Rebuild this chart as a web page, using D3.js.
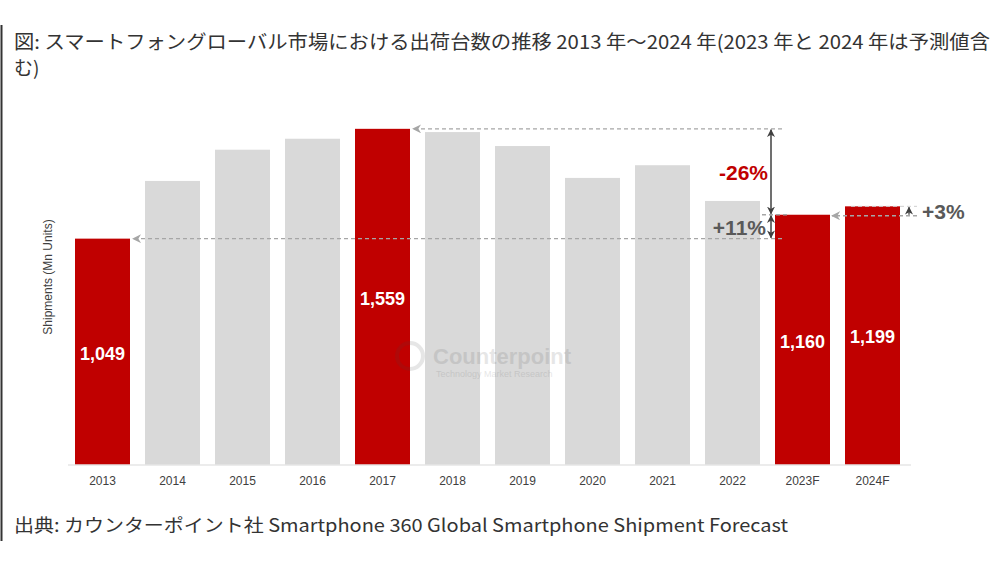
<!DOCTYPE html>
<html><head><meta charset="utf-8">
<script src="https://cdn.jsdelivr.net/npm/d3@7"></script>
<style>html,body{margin:0;padding:0;background:#fff;}svg{display:block;}</style>
</head><body>
<svg id="c" width="1000" height="562"></svg>
<script>
const categories = ["2013","2014","2015","2016","2017","2018","2019","2020","2021","2022","2023F","2024F"];
const shipments = [1049,1317,1462,1513,1559,1544,1479,1331,1390,1224,1160,1199];
const highlighted = ["2013","2017","2023F","2024F"];
const valueLabels = ["1,049","1,559","1,160","1,199"];
const changeLabels = ["-26%","+11%","+3%"];
const titleLine1 = "図: スマートフォングローバル市場における出荷台数の推移 2013 年～2024 年(2023 年と 2024 年は予測値含";
const titleLine2 = "む)";
const sourceText = "出典: カウンターポイント社 Smartphone 360 Global Smartphone Shipment Forecast";
const yTitle = "Shipments (Mn Units)";

const svg = d3.select("#c");
const RED = "#C00000", GRAY = "#D9D9D9", DARK = "#595959";
const jp = "'Noto Sans CJK JP', 'Noto Sans', sans-serif";
const ar = "'Liberation Sans', Arial, sans-serif";

const x = d3.scaleBand().domain(categories).range([67.5, 907.5])
  .paddingInner(15/70).paddingOuter(7.5/70);
const y = d3.scaleLinear().domain([0, 1600]).range([464.5, 120]);

const defs = svg.append("defs");
function marker(id, color, size) {
  defs.append("marker").attr("id", id).attr("viewBox", "0 0 10 10")
    .attr("refX", 9).attr("refY", 5).attr("markerWidth", size).attr("markerHeight", size)
    .attr("orient", "auto-start-reverse").attr("markerUnits", "userSpaceOnUse")
    .append("path").attr("d", "M0,0 L10,5 L0,10 L3,5 Z").attr("fill", color);
}
marker("arrDark", "#404040", 8);
marker("arrGray", "#a6a6a6", 9);

// left border
svg.append("line").attr("x1", 1.5).attr("x2", 1.5).attr("y1", 25).attr("y2", 541)
  .attr("stroke", "#333").attr("stroke-width", 2);

// title
svg.append("text").attr("x", 14).attr("y", 49).attr("font-family", jp).attr("font-size", 19)
  .attr("fill", "#333").attr("textLength", 976).attr("lengthAdjust", "spacingAndGlyphs").text(titleLine1);
svg.append("text").attr("x", 14).attr("y", 75).attr("font-family", jp).attr("font-size", 19)
  .attr("fill", "#333").text(titleLine2);

// bars
svg.append("g").selectAll("rect").data(categories).join("rect")
  .attr("x", d => x(d)).attr("width", x.bandwidth())
  .attr("y", (d, i) => y(shipments[i])).attr("height", (d, i) => y(0) - y(shipments[i]))
  .attr("fill", d => highlighted.includes(d) ? RED : GRAY);

// watermark (on top, faint)
const wm = svg.append("g").attr("opacity", 0.13);
wm.append("circle").attr("cx", 410).attr("cy", 356).attr("r", 13).attr("fill", "none")
  .attr("stroke", "#444").attr("stroke-width", 4);
wm.append("text").attr("x", 433).attr("y", 364).attr("font-family", ar).attr("font-weight", "bold")
  .attr("font-size", 22).attr("fill", "#444").text("Counterpoint");
wm.append("text").attr("x", 436).attr("y", 377).attr("font-family", ar)
  .attr("font-size", 9).attr("fill", "#444").text("Technology Market Research");

// baseline
svg.append("line").attr("x1", 68).attr("x2", 911).attr("y1", y(0) + 0.5).attr("y2", y(0) + 0.5)
  .attr("stroke", "#d9d9d9").attr("stroke-width", 1);

// x labels
svg.append("g").selectAll("text").data(categories).join("text")
  .attr("x", d => x(d) + x.bandwidth() / 2).attr("y", 485).attr("text-anchor", "middle")
  .attr("font-family", ar).attr("font-size", 12).attr("fill", "#404040").text(d => d);

// y title
svg.append("text").attr("transform", "translate(52,277) rotate(-90)").attr("text-anchor", "middle")
  .attr("font-family", ar).attr("font-size", 12).attr("fill", "#404040").text(yTitle);

// value labels
svg.append("g").selectAll("text").data(highlighted).join("text")
  .attr("x", d => x(d) + x.bandwidth() / 2)
  .attr("y", d => { const v = shipments[categories.indexOf(d)]; return (y(v) + y(0)) / 2 + 8; })
  .attr("text-anchor", "middle").attr("font-family", ar).attr("font-weight", "bold")
  .attr("font-size", 18).attr("fill", "#fff").text((d, i) => valueLabels[i]);

// annotations
const v13 = shipments[0], v17 = shipments[4], v23 = shipments[10], v24 = shipments[11];
const ann = svg.append("g");
const dash = "4,3";
ann.append("line").attr("x1", 782).attr("x2", x("2017") + x.bandwidth() + 3)
  .attr("y1", y(v17)).attr("y2", y(v17)).attr("stroke", "#a6a6a6").attr("stroke-width", 1.3)
  .attr("stroke-dasharray", dash).attr("marker-end", "url(#arrGray)");
ann.append("line").attr("x1", 782).attr("x2", x("2013") + x.bandwidth() + 3)
  .attr("y1", y(v13)).attr("y2", y(v13)).attr("stroke", "#a6a6a6").attr("stroke-width", 1.3)
  .attr("stroke-dasharray", dash).attr("marker-end", "url(#arrGray)");
ann.append("line").attr("x1", 762).attr("x2", 790).attr("y1", y(v23)).attr("y2", y(v23))
  .attr("stroke", "#a6a6a6").attr("stroke-width", 1.3).attr("stroke-dasharray", dash);
ann.append("line").attr("x1", 917).attr("x2", x("2023F") + x.bandwidth() + 2)
  .attr("y1", y(v23) + 1).attr("y2", y(v23) + 1).attr("stroke", "#a6a6a6").attr("stroke-width", 1.3)
  .attr("stroke-dasharray", dash).attr("marker-end", "url(#arrGray)");
ann.append("line").attr("x1", x("2024F") + 6).attr("x2", 917).attr("y1", y(v24)).attr("y2", y(v24))
  .attr("stroke", "#cfcfcf").attr("stroke-width", 1).attr("stroke-dasharray", dash);
const ax = 771;
ann.append("line").attr("x1", ax).attr("x2", ax).attr("y1", y(v17) + 1).attr("y2", y(v23) - 1)
  .attr("stroke", "#404040").attr("stroke-width", 1.5)
  .attr("marker-start", "url(#arrDark)").attr("marker-end", "url(#arrDark)");
ann.append("line").attr("x1", ax).attr("x2", ax).attr("y1", y(v23) + 1).attr("y2", y(v13) - 1)
  .attr("stroke", "#404040").attr("stroke-width", 1.5)
  .attr("marker-start", "url(#arrDark)").attr("marker-end", "url(#arrDark)");
ann.append("line").attr("x1", 909).attr("x2", 909).attr("y1", y(v23)).attr("y2", y(v24) + 1)
  .attr("stroke", "#404040").attr("stroke-width", 1.3).attr("marker-end", "url(#arrDark)");

ann.append("text").attr("x", 768).attr("y", (y(v17) + y(v23)) / 2 + 8).attr("text-anchor", "end")
  .attr("font-family", ar).attr("font-weight", "bold").attr("font-size", 21).attr("fill", RED)
  .text(changeLabels[0]);
ann.append("text").attr("x", 766).attr("y", (y(v23) + y(v13)) / 2 + 8).attr("text-anchor", "end")
  .attr("font-family", ar).attr("font-weight", "bold").attr("font-size", 21).attr("fill", DARK)
  .text(changeLabels[1]);
ann.append("text").attr("x", 922).attr("y", (y(v23) + y(v24)) / 2 + 8).attr("text-anchor", "start")
  .attr("font-family", ar).attr("font-weight", "bold").attr("font-size", 21).attr("fill", DARK)
  .text(changeLabels[2]);

// source
svg.append("text").attr("x", 14).attr("y", 532).attr("font-family", jp).attr("font-size", 18)
  .attr("fill", "#333").attr("textLength", 774).attr("lengthAdjust", "spacingAndGlyphs").text(sourceText);
</script>
</body></html>
